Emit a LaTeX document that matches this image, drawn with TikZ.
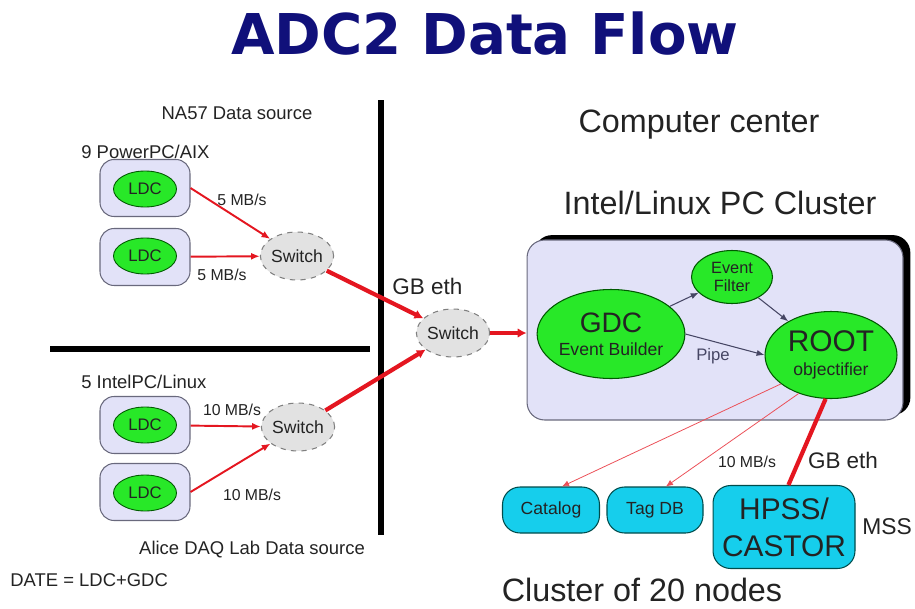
\documentclass[tikz,border=0pt]{standalone}
\usepackage{fontspec}
\setmainfont{Liberation Sans}
\newfontfamily\titlefont{DejaVu Sans}
\usepackage{xcolor}
\usetikzlibrary{shapes.geometric,positioning,arrows.meta,shadows}

\definecolor{titlenavy}{RGB}{16,16,122}
\definecolor{txtgray}{RGB}{35,35,35}
\definecolor{lav}{RGB}{226,226,248}
\definecolor{boxgray}{RGB}{105,105,125}
\definecolor{ldcgreen}{RGB}{40,232,40}
\definecolor{swgray}{RGB}{226,226,226}
\definecolor{netred}{RGB}{228,22,32}
\definecolor{pipegray}{RGB}{70,70,100}
\definecolor{mssblue}{RGB}{22,206,236}

\begin{document}
\begin{tikzpicture}[x=0.02cm, y=-0.02cm,
  every node/.style={text=txtgray, inner sep=0pt},
  srcbox/.style={draw=boxgray, fill=lav, line width=0.6pt, rounded corners=8pt,
    minimum width=1.8cm, minimum height=1.14cm},
  ldc/.style={ellipse, draw=green!35!black, fill=ldcgreen, line width=0.5pt,
    minimum width=1.26cm, minimum height=0.72cm, font=\fontsize{9.5}{10}\selectfont},
  switchnode/.style={ellipse, draw=gray, dashed, fill=swgray, line width=0.6pt,
    minimum width=1.36cm, minimum height=0.96cm, font=\fontsize{10}{11}\selectfont},
  procnode/.style={ellipse, draw=green!35!black, fill=ldcgreen, line width=0.6pt, align=center},
  storebox/.style={draw=teal!60!black, fill=mssblue, line width=0.6pt, rounded corners=10pt,
    align=center, font=\fontsize{10}{11}\selectfont},
  rate/.style={font=\fontsize{9}{10}\selectfont},
  bigtxt/.style={font=\fontsize{18.4}{20}\selectfont},
  medtxt/.style={font=\fontsize{10.5}{12}\selectfont},
  redarrow/.style={draw=netred, line width=1.1pt, -{Latex[length=5pt,width=4pt]}},
  gbline/.style={draw=netred, line width=2.4pt, -{Latex[length=5pt,width=5.5pt]}},
  thinred/.style={draw=netred!75, line width=0.45pt, -{Latex[length=4pt,width=3.5pt]}},
  flowarrow/.style={draw=pipegray, line width=0.6pt, -{Latex[length=4.5pt,width=3.5pt]}}]

  \useasboundingbox (0,0) rectangle (915,608);

  % Title
  \node[text=titlenavy, font=\titlefont\bfseries\fontsize{32}{33}\selectfont] (title) at (485,34) {ADC2 Data Flow};

  % Separators
  \draw[line width=2.9pt] (381,100) -- (381,535);
  \draw[line width=3.4pt] (50,349) -- (370,349);

  % NA57 data source
  \node[medtxt] (na57) at (237,113) {NA57 Data source};
  \node[medtxt, anchor=west] (ppc) at (81,152) {9 PowerPC/AIX};
  \node[srcbox] (boxA) at (145,188) {};
  \node[ldc] (ldcA) at (145,189) {LDC};
  \node[srcbox] (boxB) at (145,257) {};
  \node[ldc] (ldcB) at (145,256) {LDC};
  \node[switchnode] (swA) at (297,256) {Switch};
  \draw[redarrow] (boxA.east) -- (swA);
  \draw[redarrow] (boxB) -- (swA);
  \node[rate] (rateA) at (242,200) {5 MB/s};
  \node[rate] (rateB) at (222,275) {5 MB/s};

  % Alice DAQ lab data source
  \node[medtxt, anchor=west] (intel) at (81,382) {5 IntelPC/Linux};
  \node[srcbox] (boxC) at (145,425) {};
  \node[ldc] (ldcC) at (145,425) {LDC};
  \node[srcbox] (boxD) at (145,492) {};
  \node[ldc] (ldcD) at (145,493) {LDC};
  \node[switchnode] (swB) at (298,427) {Switch};
  \draw[redarrow] (boxC) -- (swB);
  \draw[redarrow] (boxD.east) -- (swB);
  \node[rate] (rateC) at (232,410) {10 MB/s};
  \node[rate] (rateD) at (252,495) {10 MB/s};
  \node[medtxt] (alice) at (252,550) {Alice DAQ Lab Data source};
  \node[medtxt, anchor=west] (date) at (10,580) {DATE = LDC+GDC};

  % Central switch
  \node[switchnode] (swC) at (453,333) {Switch};
  \node[font=\fontsize{12.8}{14}\selectfont, anchor=west] (gbA) at (392,286) {GB eth};
  \draw[gbline] (swA) -- (swC);
  \draw[gbline] (swB) -- (swC);

  % Computer center
  \node[bigtxt] (cc) at (699,125) {Computer center};
  \node[bigtxt] (pcc) at (720,203) {Intel/Linux PC Cluster};
  \node[draw=boxgray, fill=lav, line width=0.6pt, rounded corners=10pt,
    minimum width=7.52cm, minimum height=3.6cm,
    general shadow={fill=black, shadow xshift=4.2pt, shadow yshift=2.8pt}] (cluster) at (715,330) {};
  \draw[gbline] (swC.east) -- (swC.east -| cluster.west);

  \node[procnode, minimum width=2.64cm, minimum height=1.78cm, font=\fontsize{10}{12}\selectfont] (gdc) at (611,334)
    {{\fontsize{16}{16}\selectfont GDC}\\[1pt]Event Builder};
  \node[procnode, minimum width=1.62cm, minimum height=1.06cm, font=\fontsize{9.3}{10}\selectfont] (filter) at (732,277)
    {Event\\Filter};
  \node[procnode, minimum width=2.64cm, minimum height=1.74cm, font=\fontsize{10}{12}\selectfont] (root) at (831,355)
    {{\fontsize{17}{17}\selectfont ROOT}\\[1.5pt]objectifier};
  \draw[flowarrow] (gdc) -- (filter);
  \draw[flowarrow] (filter) -- (root);
  \draw[flowarrow] (gdc.east) -- (root.west);
  \node[rate, text=pipegray, font=\fontsize{9.5}{10}\selectfont] (pipe) at (713,356) {Pipe};

  % Storage
  \node[storebox, minimum width=1.94cm, minimum height=0.92cm] (catalog) at (551,510) {Catalog};
  \node[storebox, minimum width=1.92cm, minimum height=0.92cm] (tagdb) at (655,510) {Tag DB};
  \node[storebox, minimum width=2.84cm, minimum height=1.66cm, font=\fontsize{17}{21}\selectfont] (hpss) at (784,527)
    {HPSS/\\CASTOR};
  \draw[thinred] (root.210) -- (catalog.65);
  \draw[thinred] (root.230) -- (tagdb.65);
  \draw[draw=netred, line width=2.4pt] (root.263) -- (hpss.84);
  \node[rate] (rateE) at (747,462) {10 MB/s};
  \node[font=\fontsize{12.8}{14}\selectfont] (gbB) at (843,460) {GB eth};
  \node[font=\fontsize{13}{14}\selectfont, anchor=west] (mss) at (862,527) {MSS};
  \node[bigtxt] (nodes) at (642,590) {Cluster of 20 nodes};
\end{tikzpicture}
\end{document}
